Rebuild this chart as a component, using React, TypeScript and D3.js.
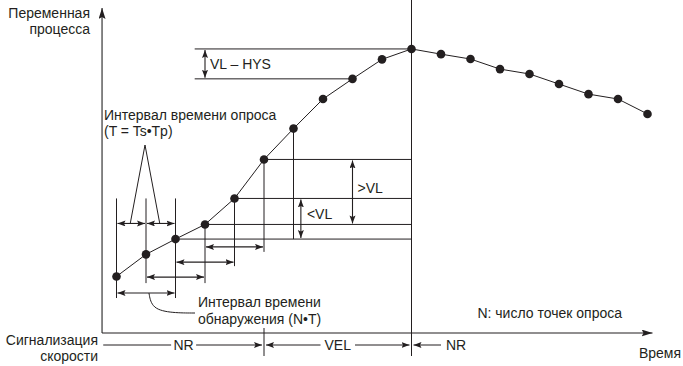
import React from "react";
import * as d3 from "d3";

// process variable at each sampling point (arbitrary units, 0..100)
const sampleValues = [17.4, 24.2, 28.9, 33.4, 41.4, 53.4, 62.9, 72.0, 78.2, 84.2, 87.4, 85.8, 84.3, 81.2, 79.7, 76.6, 73.5, 72.0, 67.4];
const peakIndex = 10;
// detection intervals N*T (N = 2), one row per start sample
const detectStarts = [0, 1, 2, 3];
const detectRowValues = [12.3, 17.2, 21.8, 26.5];
const pollStarts = [0, 1];
// samples whose level is carried across to the peak line
const levelSamples = [2, 3, 4, 5];
// velocity alarm row
const alarmLabels = ["NR", "VEL", "NR"];
const alarmBounds = [-0.45, 5, peakIndex, 11.0];

const W = 683;
const H = 366;
const ink = "#231f20";
const font = "'Liberation Sans', Arial, sans-serif";
const fs = 14;

export default function App() {
  const x = d3.scaleLinear().domain([0, 18]).range([116.5, 647.5]);
  const y = d3.scaleLinear().domain([0, 100]).range([333, 8]);
  const X0 = x(-0.49);
  const Y0 = y(0);
  const alarmY = 345;
  const px = (i: number) => x(i);
  const py = (i: number) => y(sampleValues[i]);

  const line = d3.line<number>().x((_, i) => px(i)).y((v) => y(v));

  const dbl = { markerStart: "url(#ah)", markerEnd: "url(#ah)" };

  // vertical drops from samples (index, top, bottom)
  const drops: [number, number, number][] = [
    [0, py(4), y(detectRowValues[0]) + 5],
    [1, py(4), y(detectRowValues[1]) + 6],
    [2, py(4), y(detectRowValues[0]) + 5],
    [3, py(3), y(detectRowValues[1]) + 6],
    [4, py(4), y(detectRowValues[2]) + 4],
    [5, py(5), y(detectRowValues[3]) + 5],
    [6, py(6), py(2)],
  ];

  const apex = { x: 145, y: 145 };
  const pollY = py(3) - 1;

  const leader = d3.line().curve(d3.curveBasis)([
    [x(1.1), y(detectRowValues[0])],
    [x(1.2), 309],
    [x(1.9), 313],
    [195, 313],
  ]);

  return (
    <svg width={W} height={H} style={{ position: "absolute", left: 0, top: 0, background: "#fff" }} fontFamily={font} fontSize={fs} fill={ink}>
      <defs>
        <marker id="ah" markerUnits="userSpaceOnUse" markerWidth={10} markerHeight={8} refX={8} refY={3} orient="auto-start-reverse">
          <path d="M0,0 L8,3 L0,6 L1.5,3 z" fill={ink} />
        </marker>
        <marker id="axh" markerUnits="userSpaceOnUse" markerWidth={14} markerHeight={8} refX={11} refY={3.5} orient="auto">
          <path d="M0,0 L11,3.5 L0,7 L2,3.5 z" fill={ink} />
        </marker>
      </defs>

      {/* axes */}
      <line x1={X0} y1={Y0} x2={X0} y2={y(100)} stroke="#444" strokeWidth={1.3} markerEnd="url(#axh)" />
      <line x1={X0} y1={Y0} x2={x(18.17)} y2={Y0} stroke={ink} strokeWidth={1.1} markerEnd="url(#axh)" />

      {/* peak vertical and VEL divider */}
      <line x1={px(peakIndex)} y1={0} x2={px(peakIndex)} y2={356} stroke={ink} strokeWidth={1} />
      <line x1={px(5)} y1={328} x2={px(5)} y2={356} stroke={ink} strokeWidth={1} />

      {/* levels carried to the peak line */}
      {levelSamples.map((i) => (
        <line key={"lv" + i} x1={px(i)} y1={py(i)} x2={px(peakIndex)} y2={py(i)} stroke={ink} strokeWidth={1} />
      ))}
      <line x1={x(2.65)} y1={py(peakIndex)} x2={px(peakIndex)} y2={py(peakIndex)} stroke={ink} strokeWidth={1} />
      <line x1={x(2.65)} y1={py(8)} x2={px(8)} y2={py(8)} stroke={ink} strokeWidth={1} />

      {/* drops */}
      {drops.map(([i, t, b]) => (
        <line key={"dr" + i} x1={px(i)} y1={t} x2={px(i)} y2={b} stroke={ink} strokeWidth={1} />
      ))}

      {/* detection interval arrows */}
      {detectStarts.map((s, k) => (
        <line key={"da" + s} x1={px(s) + 1} y1={y(detectRowValues[k])} x2={px(s + 2) - 1} y2={y(detectRowValues[k])} stroke={ink} strokeWidth={1.1} {...dbl} />
      ))}

      {/* polling interval arrows */}
      {pollStarts.map((s) => (
        <line key={"pa" + s} x1={px(s) + 1} y1={pollY} x2={px(s + 1) - 1} y2={pollY} stroke={ink} strokeWidth={1.1} {...dbl} />
      ))}
      <polyline points={`${x(0.5) - 1},${pollY} ${apex.x},${apex.y} ${x(1.5) - 1},${pollY}`} fill="none" stroke={ink} strokeWidth={1} />

      {/* VL - HYS, >VL, <VL */}
      <line x1={px(3)} y1={py(peakIndex) + 1} x2={px(3)} y2={py(8) - 1} stroke={ink} strokeWidth={1.1} {...dbl} />
      <text x={px(3) + 5} y={69}>VL – HYS</text>
      <line x1={px(8)} y1={py(5) + 1} x2={px(8)} y2={py(3) - 1} stroke={ink} strokeWidth={1.1} {...dbl} />
      <text x={px(8) + 5} y={193}>&gt;VL</text>
      <line x1={x(6.25)} y1={py(4) + 1} x2={x(6.25)} y2={py(2) - 1} stroke={ink} strokeWidth={1.1} {...dbl} />
      <text x={x(6.25) + 6} y={219}>&lt;VL</text>

      {/* process curve */}
      <path d={line(sampleValues) || ""} fill="none" stroke={ink} strokeWidth={1} />
      {sampleValues.map((v, i) => (
        <circle key={"pt" + i} cx={px(i)} cy={y(v)} r={4.3} fill={ink} />
      ))}

      {/* detection leader */}
      <path d={leader || ""} fill="none" stroke={ink} strokeWidth={1} />

      {/* alarm row */}
      {alarmLabels.map((lab, k) => {
        const a = x(alarmBounds[k]);
        const b = x(alarmBounds[k + 1]);
        const last = k === alarmLabels.length - 1;
        const cx = last ? b + 4 : (a + b) / 2;
        const tw = lab.length * 9.5 + 6;
        return (
          <g key={"al" + k}>
            {last ? (
              <line x1={b} y1={alarmY} x2={a + 2} y2={alarmY} stroke={ink} strokeWidth={1} markerEnd="url(#ah)" />
            ) : (
              <>
                <line x1={k === 0 ? a : a + 2} y1={alarmY} x2={cx - tw / 2} y2={alarmY} stroke={ink} strokeWidth={1} markerStart={k === 0 ? undefined : "url(#ah)"} />
                <line x1={cx + tw / 2} y1={alarmY} x2={b - 2} y2={alarmY} stroke={ink} strokeWidth={1} markerEnd="url(#ah)" />
              </>
            )}
            <text x={last ? b + 5 : cx} y={alarmY + 5} textAnchor={last ? "start" : "middle"}>{lab}</text>
          </g>
        );
      })}

      {/* labels */}
      <text x={90} y={18} textAnchor="end">Переменная</text>
      <text x={90} y={34} textAnchor="end">процесса</text>
      <text x={104} y={120}>Интервал времени опроса</text>
      <text x={104} y={136}>(T = Ts•Tp)</text>
      <text x={198} y={307}>Интервал времени</text>
      <text x={198} y={324}>обнаружения (N•T)</text>
      <text x={622} y={318} textAnchor="end">N: число точек опроса</text>
      <text x={98} y={345} textAnchor="end">Сигнализация</text>
      <text x={98} y={361} textAnchor="end">скорости</text>
      <text x={681} y={358} textAnchor="end">Время</text>
    </svg>
  );
}
